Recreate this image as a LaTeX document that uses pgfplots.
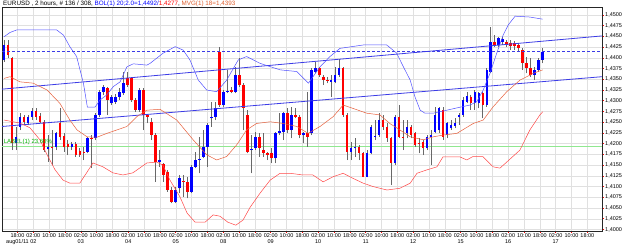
\documentclass[border=0pt]{standalone}
\usepackage{pgfplots}
\pgfplotsset{compat=1.18}
\usepackage{pgfplotstable}
\usepackage{fontspec}
\setmainfont{Liberation Sans}
\definecolor{bblue}{HTML}{0000FF}
\definecolor{bred}{HTML}{FF0000}
\definecolor{wick}{HTML}{686868}
\definecolor{bbup}{HTML}{5050FF}
\definecolor{bblow}{HTML}{FF4848}
\definecolor{ma}{HTML}{E8603C}
\definecolor{trend}{HTML}{3C3CE6}
\definecolor{fibo}{HTML}{90E890}
\definecolor{gridc}{HTML}{E0E0E0}
\definecolor{mvg}{HTML}{E06030}

% bullish candles (close >= open)
\pgfplotstableread{
i O H L C
0 1.43948 1.44414 1.43909 1.44297
3 1.42005 1.42394 1.41850 1.42160
4 1.42394 1.42704 1.42316 1.42627
6 1.42471 1.42666 1.42432 1.42627
7 1.42627 1.42821 1.42549 1.42767
11 1.41865 1.42199 1.41578 1.41927
13 1.41927 1.42277 1.41850 1.42238
17 1.41927 1.42044 1.41850 1.41989
21 1.41811 1.42160 1.41772 1.42122
23 1.42122 1.42704 1.42083 1.42666
24 1.42666 1.43248 1.42627 1.43209
25 1.43209 1.43365 1.43132 1.43326
27 1.42938 1.43132 1.42899 1.43077
28 1.42976 1.43155 1.42922 1.43093
29 1.43093 1.43287 1.43015 1.43209
30 1.43171 1.43676 1.43132 1.43404
34 1.42782 1.43287 1.42743 1.43248
39 1.41578 1.41850 1.41461 1.41617
43 1.40645 1.40995 1.40606 1.40917
44 1.40956 1.41267 1.40840 1.41189
47 1.40878 1.41500 1.40840 1.41461
48 1.41461 1.41811 1.41422 1.41617
49 1.41617 1.42160 1.41306 1.41632
50 1.41694 1.42316 1.41655 1.41927
51 1.41927 1.42471 1.41461 1.42432
52 1.42588 1.42976 1.42394 1.42627
53 1.42627 1.42976 1.42549 1.42821
55 1.42899 1.43248 1.42860 1.43209
56 1.43209 1.43715 1.43171 1.43232
58 1.43209 1.43792 1.43171 1.43598
62 1.41850 1.42199 1.41306 1.41865
63 1.41889 1.42277 1.41850 1.42160
68 1.41655 1.42277 1.41539 1.42238
69 1.42254 1.42704 1.42199 1.42285
70 1.42277 1.42743 1.42083 1.42704
72 1.42316 1.42860 1.42122 1.42666
75 1.42199 1.42277 1.42005 1.42238
77 1.42238 1.43753 1.42199 1.43715
78 1.43676 1.43909 1.43637 1.43753
82 1.43443 1.43598 1.43093 1.43481
83 1.43443 1.43792 1.43404 1.43598
84 1.43598 1.43963 1.43559 1.43753
87 1.41811 1.42044 1.41617 1.41889
88 1.41889 1.42122 1.41694 1.41927
91 1.41228 1.41850 1.41213 1.41772
92 1.41772 1.42432 1.41750 1.42394
93 1.42160 1.42549 1.42083 1.42176
94 1.42199 1.42704 1.42160 1.42549
98 1.41539 1.42666 1.41500 1.42627
101 1.42238 1.42549 1.42122 1.42394
106 1.41889 1.42199 1.41850 1.42160
107 1.42160 1.42316 1.41500 1.42199
108 1.42277 1.42860 1.42238 1.42666
109 1.42316 1.42860 1.42238 1.42821
111 1.42203 1.42513 1.42125 1.42474
112 1.42358 1.42552 1.42320 1.42436
113 1.42412 1.42590 1.42358 1.42490
114 1.42630 1.42707 1.42436 1.42669
115 1.42669 1.43096 1.42630 1.43018
116 1.42980 1.43212 1.42941 1.43111
118 1.42941 1.43251 1.42785 1.43212
119 1.42941 1.43212 1.42824 1.43174
121 1.42902 1.43756 1.42863 1.43717
122 1.43679 1.44728 1.43640 1.44378
124 1.44300 1.44495 1.44261 1.44456
125 1.44378 1.44495 1.44300 1.44440
133 1.43601 1.43795 1.43484 1.43717
134 1.43717 1.43989 1.43679 1.43950
135 1.43950 1.44223 1.43873 1.44140
}\bull

% bearish candles (close < open)
\pgfplotstableread{
i O H L C
1 1.44297 1.44414 1.43986 1.44064
2 1.44000 1.44030 1.41850 1.42005
5 1.42627 1.42666 1.42432 1.42510
8 1.42767 1.42821 1.42549 1.42627
9 1.42642 1.42704 1.42471 1.42510
10 1.42510 1.42549 1.41811 1.41850
12 1.41927 1.42316 1.41500 1.41912
14 1.42471 1.42821 1.42083 1.42160
15 1.42176 1.42238 1.41811 1.41927
16 1.41989 1.42083 1.41733 1.41927
18 1.41989 1.42044 1.41694 1.41733
19 1.41834 1.41889 1.41694 1.41733
20 1.41811 1.41927 1.41617 1.41800
22 1.42122 1.42199 1.41422 1.42105
26 1.43287 1.43326 1.42666 1.43015
31 1.43520 1.43676 1.43326 1.43365
32 1.43520 1.43559 1.42976 1.43015
33 1.43015 1.43054 1.42743 1.42782
35 1.43248 1.43287 1.42316 1.42666
36 1.42666 1.42689 1.42471 1.42611
37 1.42510 1.42588 1.42083 1.42199
38 1.42199 1.42238 1.41112 1.41578
40 1.41520 1.41539 1.41112 1.41267
41 1.41345 1.41383 1.40878 1.40917
42 1.40917 1.40995 1.40606 1.40645
45 1.41130 1.41267 1.40762 1.41110
46 1.41112 1.41228 1.40723 1.40878
54 1.44142 1.44258 1.42860 1.42899
57 1.43248 1.43326 1.43171 1.43194
59 1.43598 1.43986 1.43326 1.43365
60 1.43365 1.43404 1.42316 1.42821
61 1.42666 1.42782 1.41772 1.41811
64 1.42160 1.42238 1.41694 1.41889
65 1.41850 1.42238 1.41694 1.41772
66 1.41772 1.41811 1.41617 1.41733
67 1.41772 1.41889 1.41539 1.41655
71 1.42704 1.42821 1.42238 1.42316
73 1.42666 1.42821 1.42588 1.42627
74 1.42627 1.42666 1.42122 1.42199
76 1.42238 1.43209 1.41927 1.42145
79 1.43753 1.43792 1.43559 1.43598
80 1.43559 1.43598 1.43365 1.43481
81 1.43481 1.43559 1.43404 1.43466
85 1.43753 1.43792 1.42627 1.42666
86 1.42666 1.42704 1.41617 1.41811
89 1.41927 1.41966 1.41617 1.41772
90 1.41772 1.41811 1.41213 1.41228
95 1.42549 1.42666 1.42316 1.42394
96 1.42394 1.42471 1.42044 1.42122
97 1.42122 1.42160 1.41034 1.41539
99 1.42627 1.42899 1.42122 1.42160
100 1.42160 1.42549 1.41850 1.42145
102 1.42394 1.42432 1.42122 1.42199
103 1.42238 1.42277 1.41927 1.41966
104 1.42005 1.42122 1.41772 1.41989
105 1.42044 1.42083 1.41733 1.41889
110 1.42785 1.42863 1.42086 1.42164
117 1.43096 1.43135 1.42785 1.42941
120 1.43174 1.43212 1.42591 1.42902
123 1.44378 1.44533 1.44261 1.44300
126 1.44378 1.44417 1.44261 1.44300
127 1.44355 1.44417 1.44184 1.44277
128 1.44339 1.44401 1.44184 1.44277
129 1.44300 1.44339 1.44145 1.44223
130 1.44184 1.44223 1.43717 1.43873
131 1.43873 1.44028 1.43640 1.43756
132 1.43756 1.43989 1.43562 1.43601
}\bear

\begin{document}
\begin{tikzpicture}
\useasboundingbox (-2pt,-15pt) rectangle (623pt,231pt);
\fill[white] (-2pt,-15pt) rectangle (623pt,231pt);
\begin{axis}[
  at={(0pt,0pt)}, anchor=south west,
  scale only axis, width=600pt, height=224pt,
  xmin=-0.501, xmax=149.87, ymin=1.39965, ymax=1.45184,
  axis line style={black!85, line width=0.7pt},
  grid=major, grid style={gridc, line width=0.5pt},
  xtick={3.38,7.347,...,146.5},
  xticklabels={{18:00\\aug01/11},{02:00\\02},{10:00},{18:00},{02:00\\03},{10:00},{18:00},{02:00\\04},{10:00},{18:00},{02:00\\05},{10:00},{18:00},{02:00\\08},{10:00},{18:00},{02:00\\09},{10:00},{18:00},{02:00\\10},{10:00},{18:00},{02:00\\11},{10:00},{18:00},{02:00\\12},{10:00},{18:00},{02:00\\15},{10:00},{18:00},{02:00\\16},{10:00},{18:00},{02:00\\17},{10:00},{18:00}},
  ytick={1.4,1.4025,...,1.4501},
  xtick pos=left, ytick pos=right, yticklabel pos=right,
  tick align=outside, major tick length=2pt,
  tick style={bred, line width=0.6pt},
  xticklabel style={align=center, font=\fontsize{5.5}{6.2}\selectfont, inner sep=0.5pt, yshift=0.5pt},
  yticklabel style={font=\fontsize{5.5}{6}\selectfont, inner sep=0.5pt, xshift=0.5pt},
  scaled y ticks=false,
  /pgf/number format/.cd, fixed, fixed zerofill, precision=4, use comma, assume math mode=true,
]
% horizontal objects
\addplot[fibo, line width=1.2pt] coordinates {(-0.501,1.4194) (149.87,1.4194)};
% wicks
\addplot[wick, line width=0.7pt, quiver={u=0, v=\thisrow{H}-\thisrow{L}}] table[x=i, y=L] {\bull};
\addplot[wick, line width=0.7pt, quiver={u=0, v=\thisrow{H}-\thisrow{L}}] table[x=i, y=L] {\bear};
% bodies
\addplot[bblue, line width=2.6pt, quiver={u=0, v=\thisrow{C}-\thisrow{O}}] table[x=i, y=O] {\bull};
\addplot[bred, line width=2.6pt, quiver={u=0, v=\thisrow{C}-\thisrow{O}}] table[x=i, y=O] {\bear};
% trend lines
\addplot[trend, line width=0.8pt] coordinates {(-0.501,1.4327) (149.87,1.4451)};
\addplot[trend, line width=0.8pt] coordinates {(-0.501,1.4240) (149.87,1.4356)};
\addplot[trend, line width=0.7pt, dash pattern=on 3pt off 2pt] coordinates {(-0.501,1.4414) (149.87,1.4414)};
% Bollinger upper
\addplot[bbup, line width=0.5pt] coordinates {(0,1.4449) (1.5,1.4459) (3.2,1.4465) (13.2,1.4465) (14.9,1.4453) (16.5,1.4426) (18.2,1.4403) (19.9,1.4341) (20.9,1.4285) (22.8,1.4285) (24.1,1.4302) (25.7,1.4313) (27.4,1.4333) (29.1,1.4344) (30.8,1.4379) (32.4,1.4386) (35.8,1.4383) (36.6,1.4387) (39.9,1.4411) (42.9,1.4426) (44.9,1.4418) (46.6,1.4395) (48.7,1.4348) (50.8,1.4325) (53.3,1.4321) (55.8,1.4348) (58.7,1.4395) (60.8,1.4403) (64.2,1.4387) (69.2,1.4372) (73.4,1.4368) (76.3,1.4341) (79.2,1.4379) (81.7,1.4403) (84.2,1.4422) (90.1,1.4430) (95.9,1.4430) (98.4,1.4411) (100.1,1.4379) (101.8,1.4348) (103,1.4309) (104.3,1.4278) (105.5,1.4271) (107.6,1.4271) (111,1.4278) (114.3,1.4285) (116.8,1.4290) (118.5,1.4298) (120.1,1.4325) (121.8,1.4364) (123.5,1.4411) (125.1,1.4453) (126.4,1.4477) (128.1,1.4497) (131.8,1.4495) (135,1.4490)};
% Bollinger lower
\addplot[bblow, line width=0.5pt] coordinates {(0,1.4255) (4,1.4248) (6.5,1.4237) (9,1.4209) (10.8,1.4174) (12.8,1.4139) (14.8,1.4115) (16.5,1.4108) (19,1.4108) (20.7,1.4132) (22.3,1.4155) (24.8,1.4146) (27.3,1.4132) (29.8,1.4127) (32.3,1.4132) (35.8,1.4155) (38.3,1.4157) (39.8,1.4150) (41.6,1.4115) (44.1,1.4076) (45.9,1.4038) (47.9,1.4017) (50.4,1.4017) (52.4,1.4034) (54.1,1.4031) (56.1,1.4017) (58.1,1.4010) (59.9,1.4022) (61.7,1.4052) (64.2,1.4085) (66.7,1.4115) (69.2,1.4131) (71.7,1.4131) (74.9,1.4127) (77.4,1.4127) (80,1.4111) (82.5,1.4123) (85,1.4131) (87.5,1.4119) (90,1.4108) (92.5,1.4100) (96,1.4092) (99.2,1.4096) (101.8,1.4108) (103.5,1.4131) (106,1.4139) (108.5,1.4146) (110,1.4169) (114.3,1.4169) (116,1.4162) (117.5,1.4170) (120,1.4170) (122.6,1.4146) (124.3,1.4143) (126.1,1.4158) (129.3,1.4185) (131.8,1.4232) (134.3,1.4267) (135,1.4274)};
% moving average
\addplot[ma, line width=0.5pt] coordinates {(0,1.4352) (1.5,1.4356) (4,1.4344) (7.3,1.4341) (10.8,1.4325) (14,1.4294) (16.5,1.4255) (18.3,1.4232) (20.8,1.4216) (23.3,1.4215) (25.8,1.4224) (28.3,1.4232) (30.8,1.4240) (33.3,1.4263) (35.8,1.4278) (39.1,1.4280) (43.3,1.4255) (47.4,1.4209) (50.8,1.4174) (53.3,1.4162) (55.8,1.4170) (58.3,1.4197) (60.8,1.4232) (63.3,1.4247) (66.7,1.4251) (70,1.4247) (73.4,1.4240) (76.2,1.4224) (79.2,1.4240) (82.5,1.4263) (85,1.4290) (87.5,1.4282) (90.9,1.4271) (94.2,1.4267) (96.7,1.4247) (99.2,1.4232) (101.8,1.4216) (105.1,1.4209) (107.6,1.4216) (110.1,1.4220) (113.5,1.4224) (117.6,1.4247) (120.1,1.4255) (122.6,1.4286) (126,1.4321) (129.3,1.4348) (132.7,1.4364) (135,1.4372)};
\node[anchor=south west, text=green!70!black, font=\fontsize{6}{6}\selectfont, inner sep=0.5pt] at (axis cs:-0.2,1.4196) {LABEL(1) 23,60\%};
\node[anchor=west, draw=bred, fill=white, text=bblue, font=\fontsize{5.5}{6}\selectfont, inner sep=0.6pt, line width=0.5pt, xshift=1pt] at (axis cs:149.87,1.4414) {1,4414};
\end{axis}
\node[anchor=west, inner sep=0pt, font=\fontsize{6.3}{7}\selectfont] at (1pt,227.5pt) {EURUSD , 2 hours, \# 136 / 308, \textcolor{bblue}{BOL(1) 20;2.0=1,4492/}\textcolor{bred}{1,4277}, \textcolor{mvg}{MVG(1) 18=1,4393}};
\end{tikzpicture}
\end{document}
